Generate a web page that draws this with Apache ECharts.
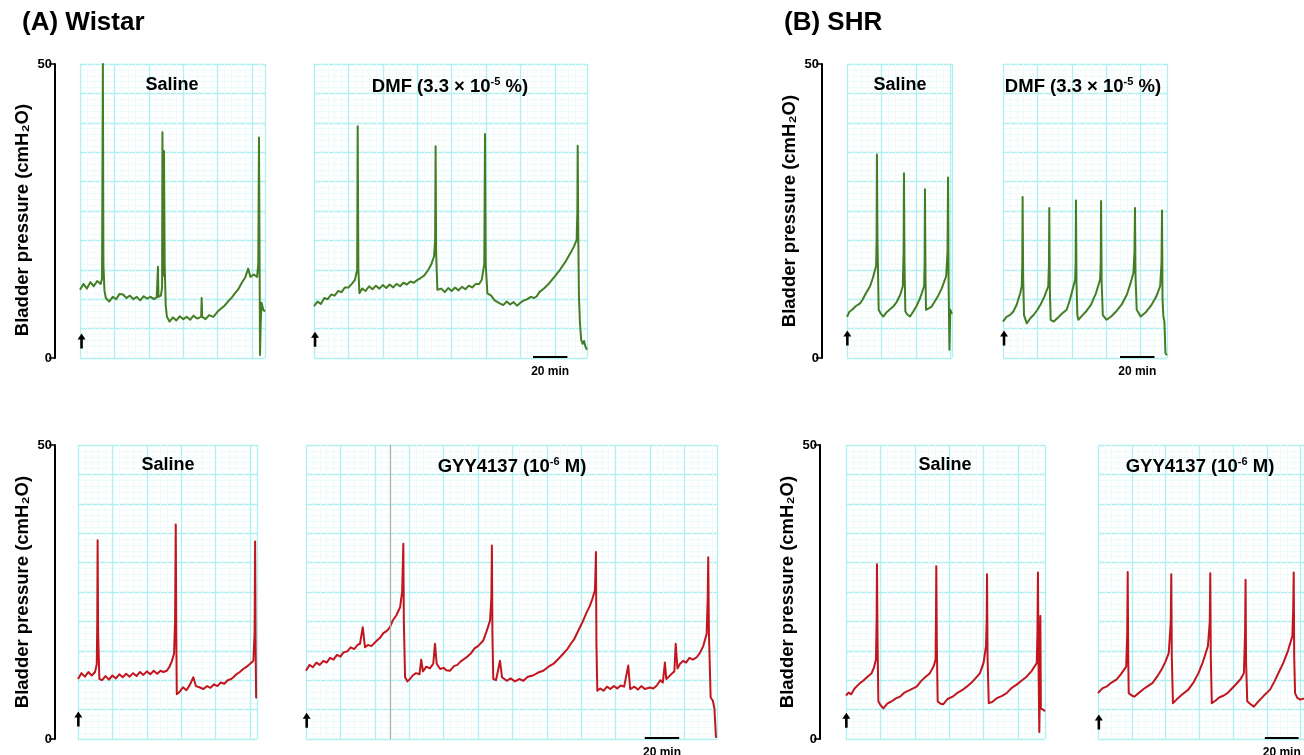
<!DOCTYPE html>
<html>
<head>
<meta charset="utf-8">
<title>Bladder pressure traces</title>
<script src="https://cdn.jsdelivr.net/npm/echarts@6/dist/echarts.min.js"></script>
<style>
  html, body { margin: 0; padding: 0; background: #fff; }
  #chart { width: 1304px; height: 755px; }
</style>
</head>
<body>
<div id="chart"></div>
<script>
// traces: [minutes from start of infusion, cmH2O]
const wistarSalineTop = [[0,11.6],[2,12.6],[4,11.8],[6,12.9],[8,12.2],[10,13.1],[12,12.6],[12.8,13.5],[13.3,50],[13.6,16],[14.2,11.5],[15,10.2],[17,9.6],[19,10.4],[21,10.0],[23,10.9],[25,10.8],[27,10.2],[29,10.6],[31,10.0],[33,10.4],[35,9.8],[37,10.5],[39,10.1],[41,10.4],[43,10.0],[44.6,10.3],[45.3,15.5],[45.6,10.4],[47,10.6],[47.7,12],[47.9,38.4],[48.2,20],[48.6,14],[48.8,35.2],[49.2,16],[49.8,9],[50.5,7.0],[52,6.2],[54,6.9],[56,6.4],[58,7.1],[60,6.6],[62,7.0],[64,6.5],[66,7.2],[68,6.7],[70.4,7.0],[70.7,10.2],[71,7.0],[73,6.6],[75,7.3],[77.5,7.0],[80,7.9],[82,8.4],[84,8.9],[86,9.6],[88,10.2],[90,11.0],[92,11.7],[94,12.8],[96,13.7],[97.7,15.2],[99,13.8],[101,14.2],[102.9,13.8],[103.6,16],[104,37.5],[104.3,20],[104.6,0.5],[105,6],[105.5,9.4],[106.5,8.2],[107.5,7.9]];
const wistarDmf = [[0,8.8],[2,9.6],[4,9.2],[6,10.2],[8,10.0],[10,10.8],[12,10.6],[14,11.4],[16,11.2],[18,12.0],[20,12.0],[22,12.6],[23.8,13.3],[25.1,15],[25.4,39.4],[25.8,15],[26.4,11.0],[28,11.8],[30,11.4],[32,12.2],[34,11.7],[36,12.3],[38,11.8],[40,12.4],[42,11.9],[44,12.5],[46,12.0],[48,12.6],[50,12.2],[52,12.8],[54,12.5],[56,13.0],[58,12.8],[59.7,13.2],[62,13.6],[64,14.0],[66,14.8],[68,15.8],[69.8,17.3],[70.4,20],[70.7,36.0],[71.0,18],[71.7,11.6],[74,11.8],[76,11.2],[78,11.9],[80,11.4],[82,12.0],[84,11.5],[86,12.1],[88,11.7],[90,12.3],[92,12.0],[94,12.6],[96,12.6],[97.5,13.3],[99.0,16],[99.4,38.1],[99.8,16],[100.8,11.0],[103,10.6],[105,9.8],[108,9.3],[110,9.0],[112,9.6],[114,9.1],[116,9.5],[118,8.9],[120,9.4],[122,9.8],[124,10.0],[126,10.4],[128,10.2],[129.5,10.5],[131,11.2],[134,11.9],[137,12.8],[140,13.9],[143,15.0],[146,16.3],[149,17.8],[151,18.9],[152.7,20.1],[153.1,25],[153.3,36.1],[153.6,22],[154,10.5],[154.6,6],[155.3,3.1],[156.2,2.4],[157,2.9],[157.8,1.9],[158.7,1.4]];
const shrSalineTop = [[0,7.0],[1.5,7.9],[3,8.2],[5,8.8],[7.6,9.3],[9,9.9],[11,11.0],[13.4,12.2],[15,13.6],[16.9,15.6],[17.2,20],[17.4,34.6],[17.7,20],[18.4,8.2],[19.5,7.6],[21.1,7.05],[23,7.8],[25,8.3],[26.9,8.75],[29,9.6],[31,10.8],[32.4,12.2],[32.9,18],[33.1,31.4],[33.4,16],[33.9,7.9],[35,7.4],[36.6,7.05],[38.5,7.9],[40.5,8.9],[42.5,10.2],[44.8,12.2],[45.1,16],[45.3,28.7],[45.6,14],[45.9,8.2],[47,7.9],[49,8.7],[51,9.6],[53,10.6],[55,11.8],[57.6,13.9],[58.4,18],[58.7,30.7],[59.0,13.3],[59.5,1.4],[60,8.2],[61,7.5]];
const shrDmf = [[0,6.2],[2,7.0],[4,7.3],[6,7.9],[8,9.1],[10,11.0],[10.9,12.2],[11.2,16],[11.4,27.4],[11.7,14],[12.2,7.3],[13.8,5.9],[16,6.8],[18,7.4],[20,8.2],[22,9.2],[24,10.4],[26.3,12.2],[26.7,16],[26.9,25.5],[27.2,12],[27.7,6.5],[29.5,6.2],[32,6.9],[34.5,7.6],[37,8.2],[39,10],[41.9,13.3],[42.2,16],[42.4,26.8],[42.7,13],[43.2,7.3],[43.8,6.5],[46,7.2],[48.5,8.0],[51,9.0],[54,11.0],[56.4,13.3],[56.8,16],[57,26.7],[57.3,13],[58,7.3],[60.2,6.5],[63,7.1],[66,8.0],[69,9.1],[72,10.8],[74,12.6],[75.8,14.5],[76.4,18],[76.7,25.5],[77.0,14],[77.7,8.2],[80,7.05],[83,7.8],[86,8.9],[89,10.4],[91.3,12.2],[92.1,16],[92.4,25.1],[92.7,10],[93.2,7.05],[93.8,6.2],[94.4,0.8],[95.3,0.5]];
const wistarSalineBottom = [[0,10.2],[2,11.2],[4,10.6],[6,11.4],[8,10.8],[9.9,11.4],[10.9,12.7],[11.2,20],[11.4,33.8],[11.7,18],[12.4,10.2],[14,10.0],[16,10.7],[18,10.1],[20,10.8],[22,10.3],[24,11.0],[26,10.5],[28,11.1],[30,10.6],[32,11.2],[34,10.7],[36,11.4],[38,10.9],[40,11.5],[42,11.0],[44,11.6],[46,11.1],[48,11.6],[49.6,11.4],[51.5,11.6],[53,12.2],[54.5,13.2],[55.8,14.5],[56.4,20],[56.8,36.5],[57.1,18],[57.4,7.6],[59,8.0],[61,8.8],[63,8.3],[65,9.2],[67,10.5],[68.5,9.0],[70.5,8.8],[72.9,8.5],[75,9.0],[77,8.7],[79,9.3],[81,9.0],[83,9.6],[85,9.4],[87,10.0],[89,10.2],[90.3,10.5],[92,11.0],[94,11.4],[96,11.9],[98,12.3],[100,12.8],[101.9,13.3],[102.6,18],[102.9,33.6],[103.2,16],[103.5,7.05],[104,7.05]];
const wistarGyy = [[0,11.6],[2,12.6],[4,12.2],[6,13.0],[8,12.6],[10.1,13.3],[12,13.0],[14,13.8],[16,13.5],[18,14.3],[20,14.0],[21.7,14.7],[24,14.9],[26,15.6],[28,15.3],[30,16.0],[31.4,16.2],[33,19.0],[34.3,15.6],[36,16.0],[38,15.8],[41.1,16.7],[43,17.2],[45,18.0],[47,18.4],[48.8,19.0],[50.5,20.2],[52.5,21.0],[54.7,22.4],[55.9,25],[56.6,33.2],[56.9,20],[57.6,10.5],[59,9.8],[60.5,10.2],[62,10.8],[64,11.2],[66,11.0],[67,13.5],[68,11.5],[70,12.3],[72,12.0],[74,12.8],[75,16.2],[76,12.8],[78,11.9],[80,12.1],[81.5,11.7],[83.7,11.6],[86,12.4],[88,12.6],[90,13.2],[93.4,13.9],[96,14.6],[98,15.4],[100,15.8],[103,16.7],[105,18.3],[107,20.1],[107.8,24],[108.1,32.9],[108.4,18],[108.9,10.2],[110.5,10.0],[112.8,13.3],[114,10.5],[116.7,9.9],[119,10.3],[121.5,9.8],[124,10.2],[126.4,9.9],[129,10.6],[132,10.8],[135,11.3],[138,11.6],[141,12.3],[144,12.8],[147,13.7],[149.6,14.5],[152,15.3],[154,16.2],[156,17.0],[159.3,19.0],[161,20.0],[163,21.4],[165,22.6],[166.5,23.8],[168,25.3],[168.3,28],[168.6,31.8],[168.9,16],[169.4,8.2],[171,8.6],[173,8.2],[175,8.9],[177,8.5],[179,9.0],[181,8.6],[183,9.1],[185,8.9],[187.4,12.5],[188.5,8.5],[191,8.9],[193,8.4],[195,9.0],[197,8.5],[200,8.75],[202,8.6],[204,9.1],[206,10.0],[207.5,9.6],[208.7,13.0],[209.5,10.2],[211,10.6],[213,11.2],[214.2,11.5],[215,16.2],[216,12.0],[217.5,12.8],[219.4,13.3],[221,13.0],[223,13.8],[225,13.5],[227.2,13.9],[229,14.6],[231,15.8],[233,17.9],[233.6,24],[233.9,30.9],[234.3,18],[235.3,7.05],[236.6,6.5],[237.5,5.2],[238.4,0.2]];
const shrSalineBottom = [[0,7.4],[1.5,7.9],[3,7.6],[5,8.6],[8.1,9.5],[10,9.9],[12.5,10.6],[14.9,11.2],[16.3,12.2],[17.4,13.5],[17.8,20],[18,29.7],[18.3,18],[18.8,6.4],[20,5.8],[21.7,5.2],[24,6.0],[27,6.5],[29,6.9],[31.4,7.2],[34,7.9],[37,8.3],[39,8.6],[41.1,8.9],[43.5,9.8],[46,10.5],[48.8,11.2],[51,12.4],[52.1,13.5],[52.3,20],[52.5,29.4],[52.8,16],[53.3,6.4],[55,6.0],[56.5,5.9],[59,6.8],[62,7.2],[65,7.9],[67.5,8.3],[70.2,8.9],[73,9.6],[75.5,10.4],[77.9,11.2],[80,13.0],[81.4,15.8],[81.8,20],[82,28.0],[82.3,14],[83,6.1],[85,6.3],[88,7.0],[90.5,7.3],[93.4,7.8],[96,8.6],[99,9.2],[102,9.9],[105,10.6],[108,11.6],[110.9,12.9],[111.3,18],[111.6,28.3],[111.9,14],[112.2,6],[112.4,1.2],[112.7,8],[113,20.9],[113.3,5.2],[114.5,5.0],[115.7,4.7]];
const shrGyy = [[0,7.8],[0.6,7.8],[2.5,8.6],[5,8.9],[8,9.6],[10.9,10.1],[13.5,11.0],[16.7,12.3],[17.3,18],[17.6,28.4],[17.9,14],[18.2,7.8],[20,7.4],[21.5,7.2],[24,7.8],[27,8.5],[29.5,9.0],[32.2,9.5],[35,10.6],[38,12.0],[40,13.2],[41.9,14.6],[43.1,20],[43.4,28.0],[43.7,14],[44.4,6.1],[46.5,6.7],[50,7.6],[53.5,8.4],[56.5,9.6],[59.5,11.2],[62,13.0],[65.1,15.8],[66.2,20],[66.5,28.2],[66.8,14],[67.4,6.1],[69.5,6.5],[72,7.1],[74.5,7.4],[76.7,7.8],[79,8.5],[82,9.4],[84.5,10.2],[86.4,11.2],[87.1,18],[87.4,27.1],[87.7,13],[88.4,6.4],[90,6.0],[92.3,5.5],[95,6.4],[98,7.3],[101.9,8.4],[104.5,9.8],[107,11.3],[109.7,12.9],[112.5,15.0],[115.1,17.5],[115.6,22],[115.9,28.3],[116.2,14],[116.7,7.8],[118,7.0],[119.8,6.7],[122,6.9]];

const pressureRange = [0, 50];
const scaleBarMinutes = 20;
const yName = 'Bladder pressure (cmH₂O)';

const GREEN = '#457d25';
const RED = '#c2151d';
const GRID_MAJOR = '#b0f0f0';
const GRID_MINOR = '#eefbfb';
const FONT = "'Liberation Sans', Arial, Helvetica, sans-serif";

// layout of the eight recordings (pixels), plus where the annotations sit
const panels = [
  { data: wistarSalineTop, color: GREEN, left: 80, top: 64, width: 185, height: 294, xMax: 107.5, title: 'Saline', titleX: 172, titleY: 76, arrow: [0.9, 2.9], axisOffset: 25, namePad: [0, 18, 0, 0] },
  { data: wistarDmf, color: GREEN, left: 314, top: 64, width: 273, height: 294, xMax: 158.7, title: '{t|DMF (3.3 × 10}{s|-5}{t| %)}', titleX: 450, titleY: 76, arrow: [0.6, 3.2], bar: 127.3 },
  { data: shrSalineTop, color: GREEN, left: 847, top: 64, width: 105, height: 294, xMax: 61, title: 'Saline', titleX: 900, titleY: 76, arrow: [0.2, 3.4], axisOffset: 25 },
  { data: shrDmf, color: GREEN, left: 1003, top: 64, width: 164, height: 294, xMax: 95.3, title: '{t|DMF (3.3 × 10}{s|-5}{t| %)}', titleX: 1083, titleY: 76, arrow: [0.6, 3.4], bar: 68 },
  { data: wistarSalineBottom, color: RED, left: 78, top: 445, width: 179, height: 294, xMax: 104, title: 'Saline', titleX: 168, titleY: 456, arrow: [0.2, 3.4], axisOffset: 23 },
  { data: wistarGyy, color: RED, left: 306, top: 445, width: 411, height: 294, xMax: 239, title: '{t|GYY4137 (10}{s|-6}{t| M)}', titleX: 512, titleY: 456, arrow: [0.4, 3.2], bar: 197, marker: 49.2 },
  { data: shrSalineBottom, color: RED, left: 846, top: 445, width: 199, height: 294, xMax: 115.7, title: 'Saline', titleX: 945, titleY: 456, arrow: [0.2, 3.2], axisOffset: 26 },
  { data: shrGyy, color: RED, left: 1098, top: 445, width: 210, height: 294, xMax: 122, title: '{t|GYY4137 (10}{s|-6}{t| M)}', titleX: 1200, titleY: 456, arrow: [0.5, 2.9], bar: 98.8 }
];

const ARROW = 'path://M5,0 L10,6.5 L6.6,6.5 L6.6,16 L3.4,16 L3.4,6.5 L0,6.5 Z';

const chart = echarts.init(document.getElementById('chart'));

const gridAxis = (i, max, interval) => ({
  type: 'value', gridIndex: i, min: 0, max: max, interval: interval,
  axisLine: { show: false }, axisTick: { show: false }, axisLabel: { show: false },
  splitLine: { show: true, lineStyle: { color: GRID_MAJOR, width: 1.3 } },
  minorTick: { show: false, splitNumber: 5 },
  minorSplitLine: { show: true, lineStyle: { color: GRID_MINOR, width: 1 } }
});

const grid = [], xAxis = [], yAxis = [], series = [];
const title = [
  { text: '(A) Wistar', left: 22, top: 10, padding: 0, textStyle: { fontFamily: FONT, fontSize: 26, fontWeight: 'bold', color: '#000' } },
  { text: '(B) SHR', left: 784, top: 10, padding: 0, textStyle: { fontFamily: FONT, fontSize: 26, fontWeight: 'bold', color: '#000' } }
];

panels.forEach((p, i) => {
  grid.push({ left: p.left, top: p.top, width: p.width, height: p.height });
  xAxis.push(gridAxis(i, p.xMax, 20));
  yAxis.push(gridAxis(i, pressureRange[1], 5));

  title.push({
    text: p.title, left: p.titleX, top: p.titleY, textAlign: 'center', padding: 0,
    textStyle: {
      fontFamily: FONT, fontSize: 18, fontWeight: 'bold', color: '#000',
      rich: {
        t: { fontFamily: FONT, fontSize: 18.5, fontWeight: 'bold', color: '#000', lineHeight: 22 },
        s: { fontFamily: FONT, fontSize: 11, fontWeight: 'bold', color: '#000', lineHeight: 13, verticalAlign: 'top' }
      }
    }
  });

  const lines = [];
  if (p.bar !== undefined) {
    lines.push([
      { coord: [p.bar, 0.15], lineStyle: { color: '#000', width: 2, type: 'solid' },
        label: { show: true, formatter: scaleBarMinutes + ' min', position: 'insideMiddleBottom', distance: 9,
                 color: '#000', fontFamily: FONT, fontSize: 12, fontWeight: 'bold' } },
      { coord: [p.bar + scaleBarMinutes, 0.15] }
    ]);
  }
  if (p.marker !== undefined) {
    lines.push({ xAxis: p.marker, lineStyle: { color: '#a9a9a9', width: 1.2, type: 'solid' }, label: { show: false } });
  }

  series.push({
    type: 'line',
    xAxisIndex: i, yAxisIndex: i,
    data: p.data,
    showSymbol: false,
    lineStyle: { color: p.color, width: 2, join: 'round' },
    itemStyle: { color: p.color },
    animation: false,
    markPoint: {
      symbol: ARROW, symbolSize: [8, 15], silent: true,
      itemStyle: { color: '#000' }, label: { show: false },
      data: [{ coord: p.arrow }]
    },
    markLine: { symbol: 'none', silent: true, animation: false, data: lines }
  });
});

// black pressure axes, one for each group of recordings
panels.forEach((p, i) => {
  if (p.axisOffset === undefined) return;
  yAxis.push({
    type: 'value', gridIndex: i, position: 'left', offset: p.axisOffset,
    min: pressureRange[0], max: pressureRange[1], interval: pressureRange[1] - pressureRange[0],
    axisLine: { show: true, lineStyle: { color: '#000', width: 2 } },
    axisTick: { show: true, length: 6, lineStyle: { color: '#000', width: 1.5 } },
    axisLabel: { color: '#000', fontFamily: FONT, fontSize: 13, fontWeight: 'bold', margin: 3 },
    splitLine: { show: false },
    name: yName, nameLocation: 'middle', nameRotate: 90, nameGap: 23,
    nameTextStyle: { color: '#000', fontFamily: FONT, fontSize: 18.5, fontWeight: 'bold', padding: p.namePad || 0 }
  });
});

chart.setOption({
  backgroundColor: '#fff',
  animation: false,
  title: title,
  grid: grid,
  xAxis: xAxis,
  yAxis: yAxis,
  series: series
});
</script>
</body>
</html>
